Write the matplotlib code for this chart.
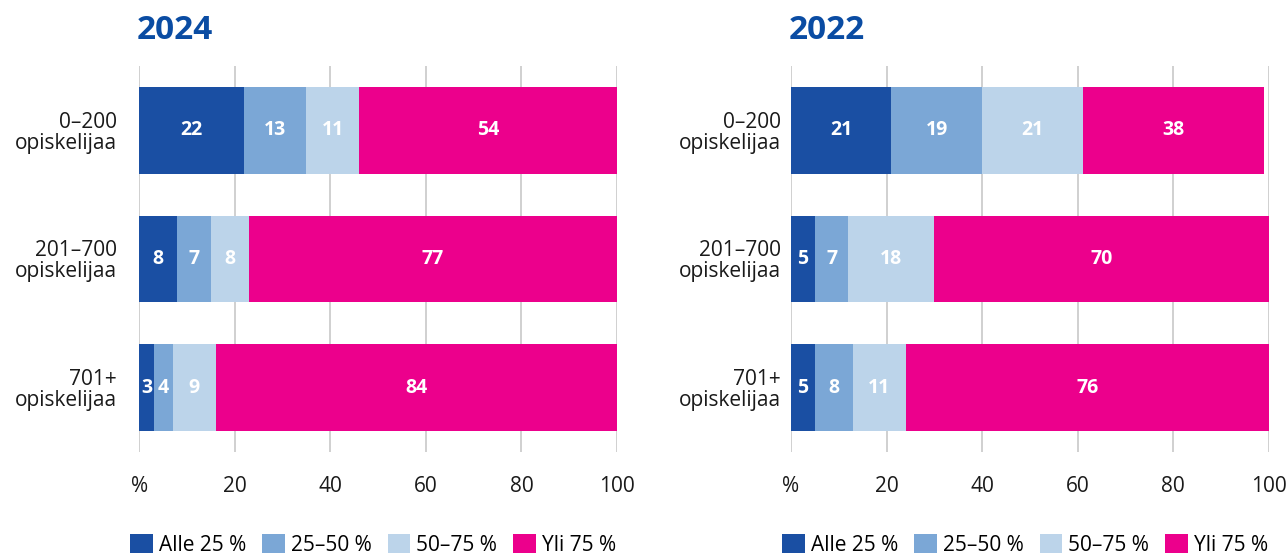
import numpy as np
import matplotlib
matplotlib.use('Agg')
import matplotlib.pyplot as plt

plt.rcParams['font.family'] = ['Open Sans', 'DejaVu Sans']

groups = ['0–200\nopiskelijaa', '201–700\nopiskelijaa', '701+\nopiskelijaa']
series = ['Alle 25 %', '25–50 %', '50–75 %', 'Yli 75 %']
colors = ['#1a4fa3', '#7ba7d6', '#bcd4ea', '#ec008c']

vals_2024 = {
    'Alle 25 %': [22, 8, 3],
    '25–50 %': [13, 7, 4],
    '50–75 %': [11, 8, 9],
    'Yli 75 %': [54, 77, 84],
}
vals_2022 = {
    'Alle 25 %': [21, 5, 5],
    '25–50 %': [19, 7, 8],
    '50–75 %': [21, 18, 11],
    'Yli 75 %': [38, 70, 76],
}
xticks = [0, 20, 40, 60, 80, 100]
xticklabels = ['%', '20', '40', '60', '80', '100']

fig = plt.figure(figsize=(12.88, 5.56), dpi=100)
ax1 = fig.add_axes([0.1081, 0.1871, 0.3709, 0.6942])
ax2 = fig.add_axes([0.6141, 0.1871, 0.3711, 0.6942])


def draw(ax, data, title, ypad):
    y = np.arange(len(groups))
    left = np.zeros(len(groups))
    for name, col in zip(series, colors):
        v = np.array(data[name], dtype=float)
        bars = ax.barh(y, v, left=left, height=0.672, color=col, label=name, zorder=2)
        ax.bar_label(bars, labels=[str(int(a)) for a in v], label_type='center',
                     color='white', fontweight='bold', fontsize=14)
        left += v
    ax.set_xlim(0, 100)
    ax.set_ylim(2.5, -0.5)
    ax.set_yticks(y)
    ax.set_yticklabels(groups, fontsize=15, linespacing=1.0)
    ax.set_xticks(xticks)
    ax.set_xticklabels(xticklabels, fontsize=15)
    ax.tick_params(axis='x', length=0, pad=17, colors='#1a1a1a')
    ax.tick_params(axis='y', length=0, pad=ypad, colors='#1a1a1a')
    for s in ax.spines.values():
        s.set_visible(False)
    ax.grid(axis='x', color='#c4c4c4', linewidth=1.1, zorder=0)
    ax.set_axisbelow(True)
    # title sits about 27 px above the plot area
    ax.text(-0.005, 1.0 + 27 / 386, title, transform=ax.transAxes, fontsize=24,
            fontweight='bold', color='#0a4ca3', ha='left', va='baseline')
    h, l = ax.get_legend_handles_labels()
    return h, l


h, l = draw(ax1, vals_2024, '2024', 16)
draw(ax2, vals_2022, '2022', 7)

for xpos in [130 / 1288, 782 / 1288]:
    fig.legend(h, l, loc='upper left', bbox_to_anchor=(xpos, 0.040), ncol=4,
               frameon=False, fontsize=15, handlelength=1.09, handleheight=1.06,
               handletextpad=0.29, columnspacing=0.77, borderpad=0, borderaxespad=0)

fig.savefig('out.png', dpi=100)
